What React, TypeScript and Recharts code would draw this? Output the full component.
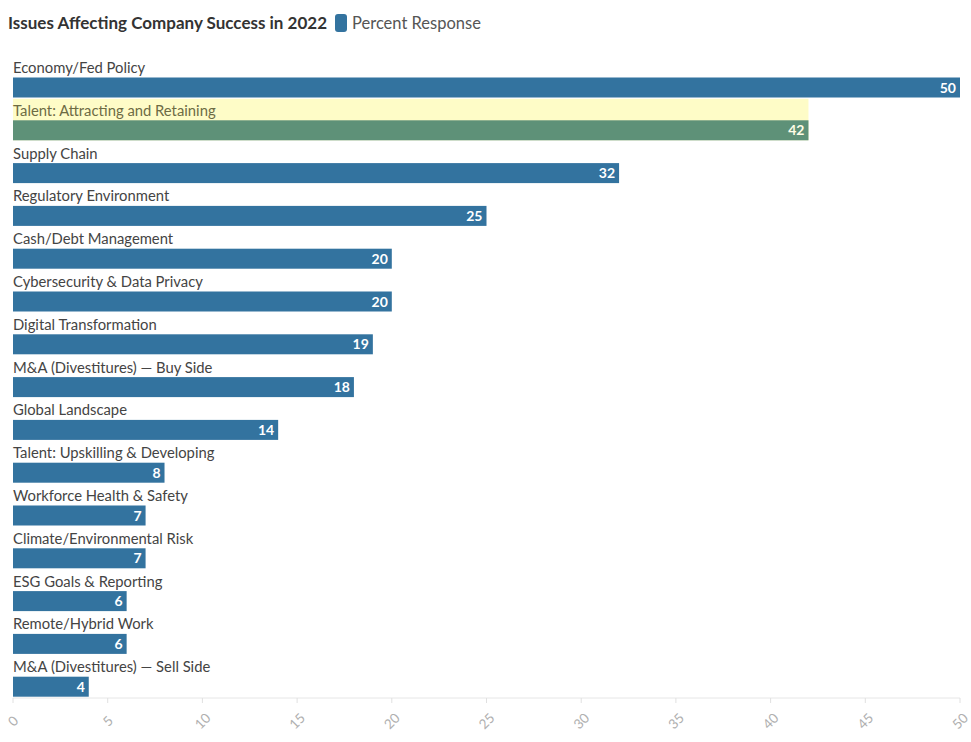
import React from "react";
import { BarChart, Bar, XAxis, YAxis } from "recharts";

const categories = [
  "Economy/Fed Policy",
  "Talent: Attracting and Retaining",
  "Supply Chain",
  "Regulatory Environment",
  "Cash/Debt Management",
  "Cybersecurity & Data Privacy",
  "Digital Transformation",
  "M&A (Divestitures) — Buy Side",
  "Global Landscape",
  "Talent: Upskilling & Developing",
  "Workforce Health & Safety",
  "Climate/Environmental Risk",
  "ESG Goals & Reporting",
  "Remote/Hybrid Work",
  "M&A (Divestitures) — Sell Side",
];
const percentResponse = [50, 42, 32, 25, 20, 20, 19, 18, 14, 8, 7, 7, 6, 6, 4];
const highlighted = ["Talent: Attracting and Retaining"];
const xTicks = [0, 5, 10, 15, 20, 25, 30, 35, 40, 45, 50];

const data = categories.map((name, i) => ({
  name,
  value: percentResponse[i],
  highlight: highlighted.includes(name),
}));

const FONT = "Lato, 'Source Sans Pro', 'Open Sans', sans-serif";
const BLUE = "#33739f";
const GREEN = "#5e9178";
const YELLOW = "#fefcc7";

const BarShape = (props: any) => {
  const { x, y, width, height, payload } = props;
  const barH = 20;
  const barY = y + height - barH - 1.5;
  const hl = payload.highlight;
  return (
    <g>
      {hl && <rect x={x} y={y} width={width} height={height - 1.5} fill={YELLOW} />}
      <rect x={x} y={barY} width={width} height={barH} fill={hl ? GREEN : BLUE} />
      <text
        x={x}
        y={y + 17}
        fontFamily={FONT}
        fontSize={14.8}
        fill={hl ? "#6d6b44" : "#444"}
      >
        {payload.name}
      </text>
      <text
        x={x + width - 4}
        y={barY + 15}
        textAnchor="end"
        fontFamily={FONT}
        fontWeight={700}
        fontSize={14}
        fill={hl ? "#fffde6" : "#ffffff"}
      >
        {payload.value}
      </text>
    </g>
  );
};

const Tick = (props: any) => {
  const { x, y, payload } = props;
  const cy = y + 16;
  return (
    <text
      x={x}
      y={cy}
      textAnchor="middle"
      dominantBaseline="central"
      transform={`rotate(-45, ${x}, ${cy})`}
      fontFamily={FONT}
      fontSize={13.5}
      fill="#b0b0b0"
    >
      {payload.value}
    </text>
  );
};

export default function App() {
  return (
    <div style={{ position: "absolute", left: 0, top: 0, width: 971, height: 742, background: "#fff" }}>
      <div
        style={{
          position: "absolute",
          left: 8,
          top: 12,
          display: "flex",
          alignItems: "center",
          fontFamily: FONT,
          whiteSpace: "nowrap",
        }}
      >
        <span style={{ fontWeight: 700, fontSize: 17, color: "#333" }}>
          Issues Affecting Company Success in 2022
        </span>
        <span
          style={{
            display: "inline-block",
            width: 12,
            height: 18,
            borderRadius: 3,
            background: BLUE,
            marginLeft: 8,
            marginRight: 5,
          }}
        />
        <span style={{ fontSize: 16.5, color: "#555" }}>Percent Response</span>
      </div>
      <BarChart
        width={971}
        height={742}
        data={data}
        layout="vertical"
        margin={{ top: 56, right: 11, left: 13, bottom: 4 }}
        barCategoryGap={0}
        barGap={0}
      >
        <XAxis
          type="number"
          domain={[0, 50]}
          ticks={xTicks}
          height={40}
          axisLine={{ stroke: "#e6e6e6" }}
          tickLine={{ stroke: "#e0e0e0" }}
          tickSize={5}
          tick={<Tick />}
          interval={0}
        />
        <YAxis type="category" dataKey="name" hide />
        <Bar dataKey="value" isAnimationActive={false} shape={<BarShape />} />
      </BarChart>
    </div>
  );
}
